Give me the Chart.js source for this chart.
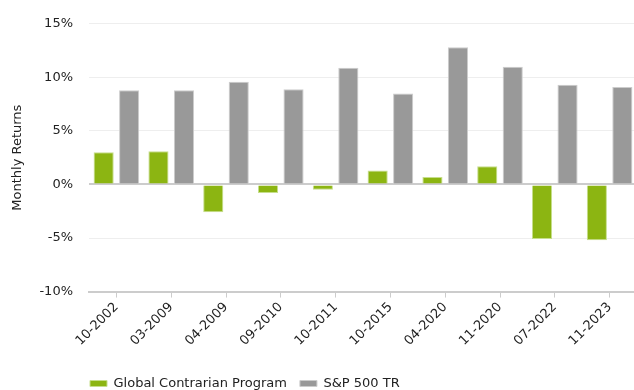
<!DOCTYPE html>
<html>
<head>
<meta charset="utf-8">
<script src="https://cdn.jsdelivr.net/npm/chart.js@4.4.1/dist/chart.umd.min.js"></script>
<style>
  html, body { margin: 0; padding: 0; overflow: hidden; background: #fff; }
  #wrap { width: 637px; height: 400px; }
</style>
</head>
<body>
<div id="wrap"><canvas id="barChart" width="637" height="400"></canvas></div>
<script>
var months = ['10-2002', '03-2009', '04-2009', '09-2010', '10-2011', '10-2015', '04-2020', '11-2020', '07-2022', '11-2023'];
var contrarian = [3.0, 3.1, -2.6, -0.8, -0.5, 1.3, 0.7, 1.7, -5.1, -5.2];
var sp500 = [8.8, 8.8, 9.6, 8.9, 10.9, 8.5, 12.8, 11.0, 9.3, 9.1];
var yTicks = [-10, -5, 0, 5, 10, 15];

var font = { family: "'DejaVu Sans', Verdana, sans-serif", size: 13 };
var bar = document.getElementById('barChart');

// nudge the legend so it starts under the plot's left edge
var legendShift = {
    id: 'legendShift',
    afterLayout: function(chart) {
        chart.legend.left -= 12;
        chart.legend.right -= 12;
    }
};

var barChart = new Chart(bar, {
    type: 'bar',
    data: {
        labels: months,
        datasets: [{
            label: 'Global Contrarian Program',
            data: contrarian,
            backgroundColor: '#8cb512',
            borderColor: '#c6de8c',
            borderWidth: 1,
            categoryPercentage: 0.93,
            barPercentage: 0.79
        }, {
            label: 'S&P 500 TR',
            data: sp500,
            backgroundColor: '#999999',
            borderColor: '#cccccc',
            borderWidth: 1,
            categoryPercentage: 0.93,
            barPercentage: 0.79
        }]
    },
    plugins: [legendShift],
    options: {
        responsive: false,
        animation: false,
        layout: {
            padding: { top: 8, left: 0, right: 0, bottom: 0 }
        },
        scales: {
            x: {
                afterFit: function(scale) { scale.height += 13; },
                grid: {
                    offset: false,
                    drawOnChartArea: false,
                    drawTicks: true,
                    tickLength: 6,
                    color: '#cccccc'
                },
                border: { color: '#cccccc', width: 2 },
                ticks: {
                    color: '#222',
                    font: font,
                    maxRotation: 45,
                    minRotation: 45,
                    padding: 2
                }
            },
            y: {
                min: yTicks[0],
                max: yTicks[yTicks.length - 1],
                afterFit: function(scale) { scale.width = 89; },
                afterBuildTicks: function(scale) {
                    scale.ticks = yTicks.map(function(v) { return { value: v }; });
                },
                grid: {
                    drawTicks: false,
                    color: function(ctx) { return ctx.tick && ctx.tick.value === 0 ? '#cccccc' : '#eeeeee'; },
                    lineWidth: function(ctx) { return ctx.tick && (ctx.tick.value === 0) ? 2 : 1; }
                },
                border: { display: false },
                ticks: {
                    color: '#222',
                    font: font,
                    padding: 16,
                    callback: function(v) { return v + '%'; }
                },
                title: {
                    display: true,
                    text: 'Monthly Returns',
                    color: '#222',
                    font: font,
                    padding: { top: 10, bottom: 11 }
                }
            }
        },
        plugins: {
            legend: {
                display: true,
                position: 'bottom',
                align: 'start',
                fullSize: false,
                labels: {
                    color: '#222',
                    font: font,
                    boxWidth: 17,
                    boxHeight: 6,
                    padding: 13
                }
            },
            tooltip: { enabled: false }
        }
    }
});

// pin the top of the plot (15% line) at y = 18
var topDiff = barChart.chartArea.top - 18;
if (Math.abs(topDiff) > 0.5) {
    barChart.options.layout.padding.top -= topDiff;
    barChart.update();
}
</script>
</body>
</html>
